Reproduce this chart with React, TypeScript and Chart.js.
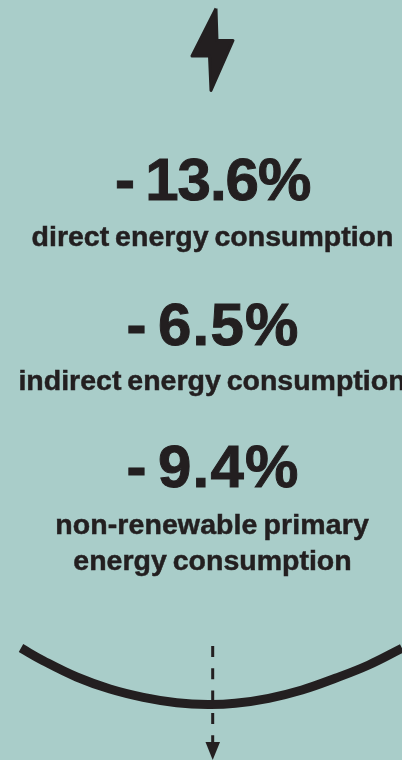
import React, { useEffect, useRef } from "react";
import { Chart, registerables } from "chart.js";

Chart.register(...registerables);

const INK = "#231f20";
const PAPER = "#a9cdc9";

const percentages = ["- 13.6%", "- 6.5%", "- 9.4%"];
const captions = [
  ["direct energy consumption"],
  ["indirect energy consumption"],
  ["non-renewable primary", "energy consumption"],
];

const curveX = [21, 43.3, 76.7, 110, 143.3, 176.7, 208, 235.3, 268.7, 302, 335.3, 368.7, 402];
const curveY = [648, 660.7, 677, 689, 697.3, 702.7, 704.5, 703.3, 698.3, 690, 678.3, 665, 648.3];

const dashX = [212.7, 212.7];
const dashY = [646, 745];

const arrowX = [205.5, 220, 212.7, 205.5];
const arrowY = [742, 742, 760, 742];

const boltX = [216, 217, 233, 211, 209.5, 192, 216];
const boltY = [8.5, 40.5, 40.5, 90.5, 56, 56, 8.5];

const toPoints = (xs: number[], ys: number[]) => xs.map((x, i) => ({ x, y: ys[i] }));

const bigRows = [
  { top: 150, ls: -1, ws: -4.6, cx: 212.7 },
  { top: 295, ls: 1.2, ws: -7.6, cx: 213 },
  { top: 437, ls: 1.2, ws: -7.6, cx: 213 },
];
const captionLines = [
  { text: captions[0][0], top: 221, cx: 212.5, ls: 0 },
  { text: captions[1][0], top: 365, cx: 212, ls: 0 },
  { text: captions[2][0], top: 509, cx: 212, ls: 0.1 },
  { text: captions[2][1], top: 545, cx: 212.5, ls: 0 },
];

export default function App() {
  const ref = useRef<HTMLCanvasElement>(null);

  useEffect(() => {
    if (!ref.current) return;
    const chart = new Chart(ref.current, {
      type: "scatter",
      data: {
        datasets: [
          {
            label: "curve",
            data: toPoints(curveX, curveY),
            showLine: true,
            borderColor: INK,
            borderWidth: 9,
            tension: 0.4,
            pointRadius: 0,
            borderCapStyle: "butt",
          },
          {
            label: "axis",
            data: toPoints(dashX, dashY),
            showLine: true,
            borderColor: INK,
            borderWidth: 3,
            borderDash: [11, 11.3],
            pointRadius: 0,
          },
          {
            label: "arrow",
            data: toPoints(arrowX, arrowY),
            showLine: true,
            borderColor: INK,
            backgroundColor: INK,
            borderWidth: 0,
            fill: "shape",
            pointRadius: 0,
          },
          {
            label: "bolt",
            data: toPoints(boltX, boltY),
            showLine: true,
            borderColor: INK,
            backgroundColor: INK,
            borderWidth: 3,
            borderJoinStyle: "round",
            fill: "shape",
            pointRadius: 0,
          },
        ],
      },
      options: {
        responsive: false,
        animation: false,
        events: [],
        layout: { padding: 0 },
        plugins: { legend: { display: false }, tooltip: { enabled: false } },
        scales: {
          x: { type: "linear", display: false, min: 0, max: 402 },
          y: { type: "linear", display: false, min: 0, max: 760, reverse: true },
        },
      },
    } as any);
    return () => chart.destroy();
  }, []);

  const base: React.CSSProperties = {
    position: "absolute",
    whiteSpace: "nowrap",
    color: INK,
    fontFamily: "'Liberation Sans', Arial, sans-serif",
    fontWeight: 700,
    transform: "translateX(-50%)",
  };

  return (
    <div
      style={{
        position: "absolute",
        left: 0,
        top: 0,
        width: 402,
        height: 760,
        overflow: "hidden",
        background: PAPER,
      }}
    >
      <canvas ref={ref} width={402} height={760} style={{ position: "absolute", left: 0, top: 0 }} />
      {percentages.map((p, i) => (
        <div
          key={p}
          style={{
            ...base,
            left: bigRows[i].cx,
            top: bigRows[i].top,
            fontSize: 60,
            lineHeight: "60px",
            letterSpacing: bigRows[i].ls,
            wordSpacing: bigRows[i].ws,
            WebkitTextStroke: `1px ${INK}`,
          }}
        >
          {p}
        </div>
      ))}
      {captionLines.map((c) => (
        <div
          key={c.text}
          style={{
            ...base,
            left: c.cx,
            top: c.top,
            fontSize: 28.5,
            lineHeight: "30px",
            letterSpacing: c.ls,
            wordSpacing: -2,
            WebkitTextStroke: `0.5px ${INK}`,
          }}
        >
          {c.text}
        </div>
      ))}
    </div>
  );
}
